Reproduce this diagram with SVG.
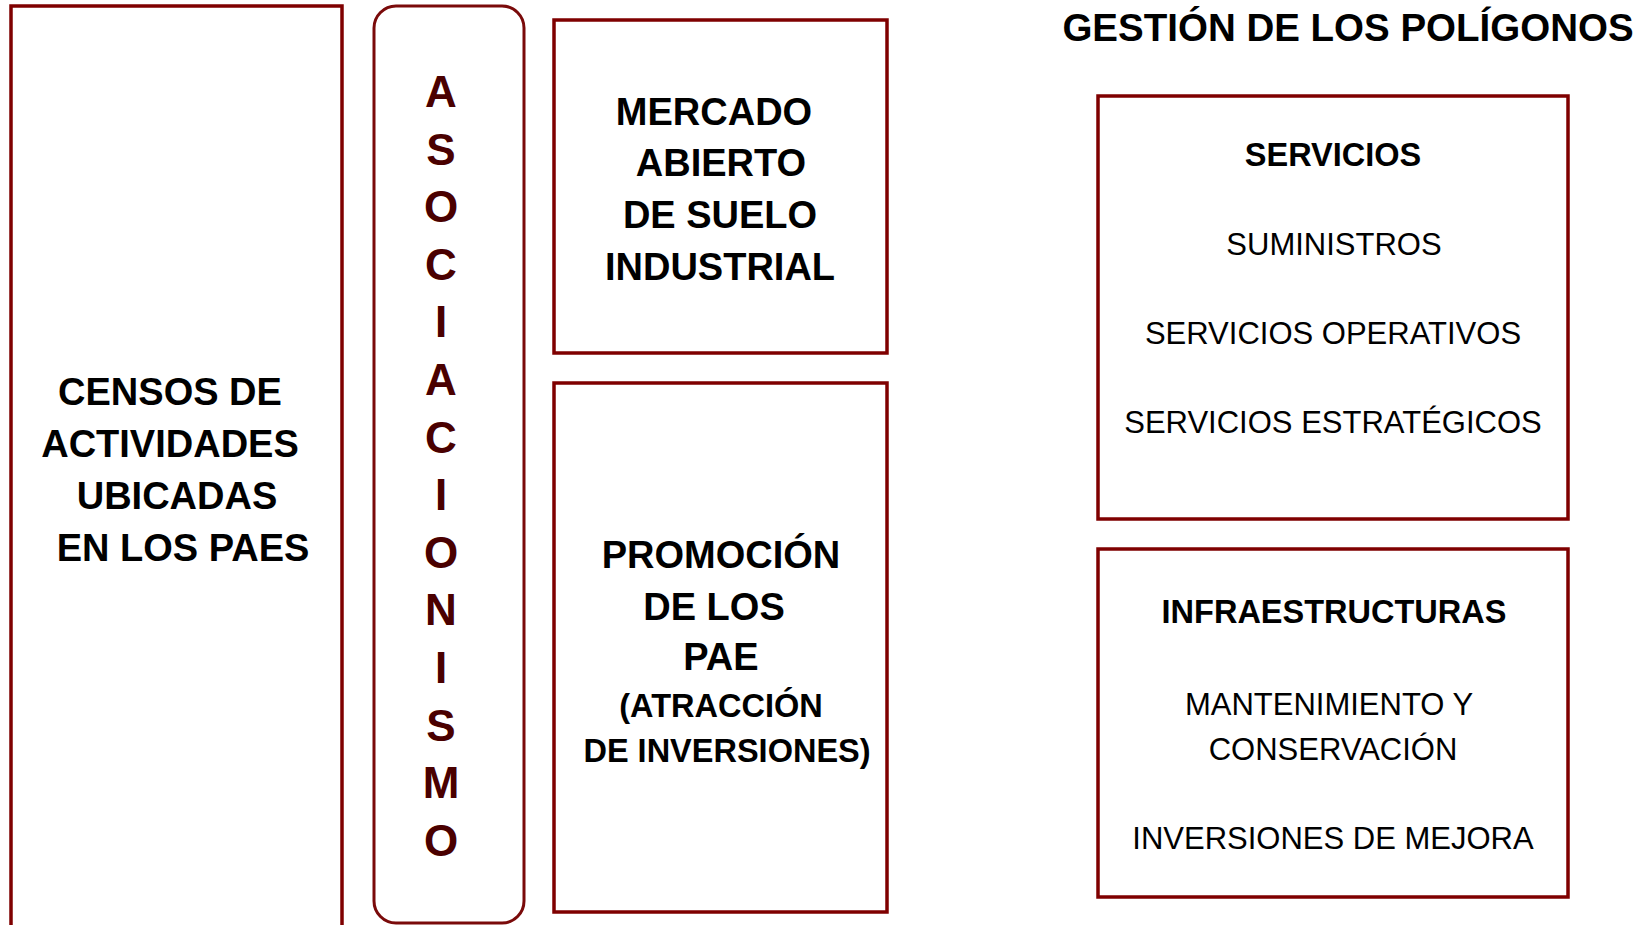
<svg xmlns="http://www.w3.org/2000/svg" width="1637" height="925" viewBox="0 0 1637 925">
<style>
.box{fill:#ffffff;stroke:#7f0000;stroke-width:3.5}
.rbox{fill:#ffffff;stroke:#7a0a0a;stroke-width:3}
.b{font-family:"Liberation Sans",Arial,sans-serif;font-weight:bold;fill:#000;text-anchor:middle}
.r{font-family:"Liberation Sans",Arial,sans-serif;font-weight:normal;fill:#000;text-anchor:middle}
.v{font-family:"Liberation Sans",Arial,sans-serif;font-weight:bold;fill:#4a0000;text-anchor:middle;font-size:44px}
</style>
<rect width="1637" height="925" fill="#ffffff"/>
<g id="connectors"></g>
<g id="censos">
<rect class="box" x="11" y="6" width="331" height="940"/>
<text class="b" font-size="38"><tspan x="170" y="405">CENSOS DE</tspan><tspan x="170" y="457">ACTIVIDADES</tspan><tspan x="177" y="509">UBICADAS</tspan><tspan x="183" y="561">EN LOS PAES</tspan></text>
</g>
<g id="asociacionismo">
<rect class="rbox" x="374" y="6" width="150" height="917" rx="22" ry="22"/>
<text class="v"><tspan x="441" y="107">A</tspan><tspan x="441" y="164.6">S</tspan><tspan x="441" y="222.2">O</tspan><tspan x="441" y="279.8">C</tspan><tspan x="441" y="337.4">I</tspan><tspan x="441" y="395">A</tspan><tspan x="441" y="452.6">C</tspan><tspan x="441" y="510.2">I</tspan><tspan x="441" y="567.8">O</tspan><tspan x="441" y="625.4">N</tspan><tspan x="441" y="683">I</tspan><tspan x="441" y="740.6">S</tspan><tspan x="441" y="798.2">M</tspan><tspan x="441" y="855.8">O</tspan></text>
</g>
<g id="mercado">
<rect class="box" x="554" y="20" width="333" height="333"/>
<text class="b" font-size="38"><tspan x="714" y="125">MERCADO</tspan><tspan x="721" y="176">ABIERTO</tspan><tspan x="720" y="228">DE SUELO</tspan><tspan x="720" y="280">INDUSTRIAL</tspan></text>
</g>
<g id="promocion">
<rect class="box" x="554" y="383" width="333" height="529"/>
<text class="b" font-size="38"><tspan x="721" y="568">PROMOCIÓN</tspan><tspan x="714" y="620">DE LOS</tspan><tspan x="721" y="670">PAE</tspan></text>
<text class="b" font-size="32.5"><tspan x="721" y="717">(ATRACCIÓN</tspan><tspan x="727" y="762">DE INVERSIONES)</tspan></text>
</g>
<g id="titulo">
<text class="b" font-size="38.5" x="1348" y="41">GESTIÓN DE LOS POLÍGONOS</text>
</g>
<g id="servicios">
<rect class="box" x="1098" y="96" width="470" height="423"/>
<text class="b" font-size="32.5" x="1333" y="166">SERVICIOS</text>
<text class="r" font-size="31"><tspan x="1334" y="255">SUMINISTROS</tspan><tspan x="1333" y="344">SERVICIOS OPERATIVOS</tspan><tspan x="1333" y="433">SERVICIOS ESTRATÉGICOS</tspan></text>
</g>
<g id="infraestructuras">
<rect class="box" x="1098" y="549" width="470" height="348"/>
<text class="b" font-size="32.5" x="1334" y="623">INFRAESTRUCTURAS</text>
<text class="r" font-size="31"><tspan x="1329" y="715">MANTENIMIENTO Y</tspan><tspan x="1333" y="760">CONSERVACIÓN</tspan><tspan x="1333" y="849">INVERSIONES DE MEJORA</tspan></text>
</g>
</svg>
